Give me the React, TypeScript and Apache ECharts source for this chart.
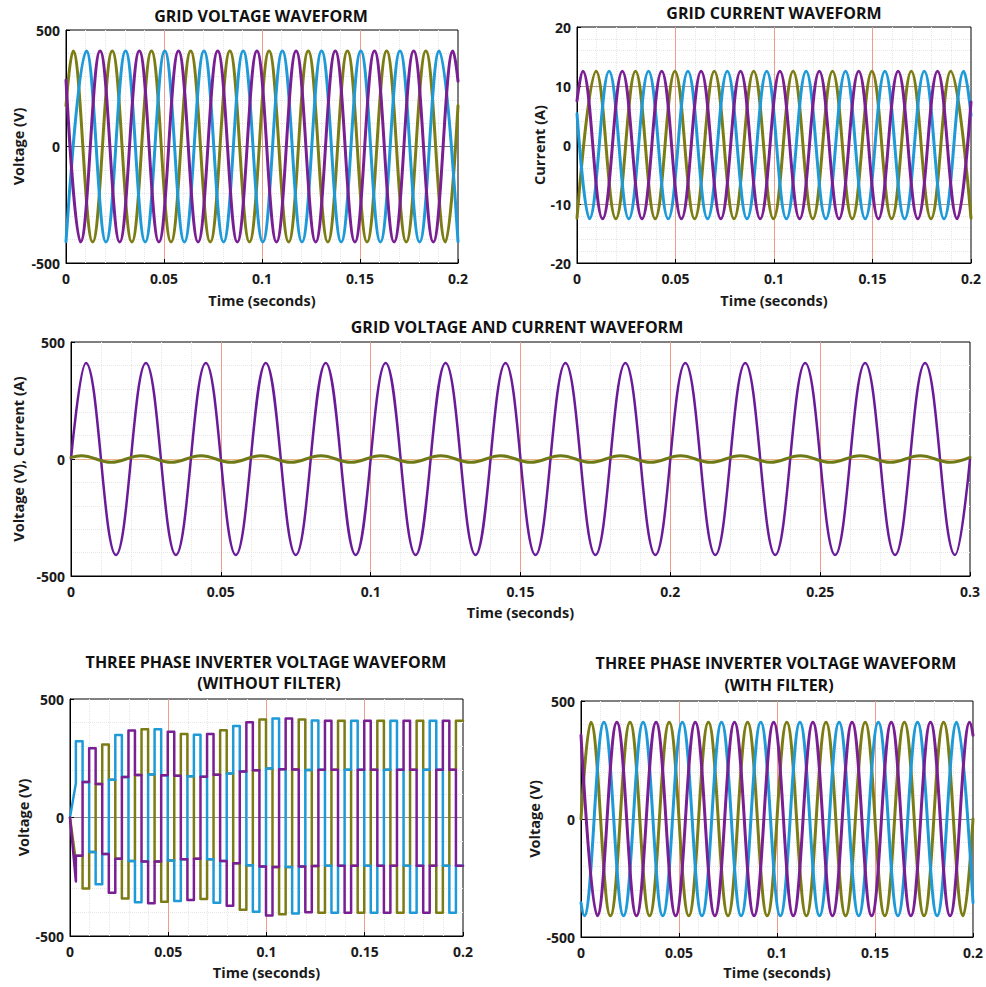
import { useEffect, useRef } from 'react';
import * as echarts from 'echarts';

type Pt = [number, number];

// ---------- colours ----------
const GREEN = '#7c7c14';
const BLUE = '#1e9ad8';
const PURPLE = '#7a1e94';

// ---------- tick labels ----------
const time02Ticks = [0, 0.05, 0.1, 0.15, 0.2];
const time03Ticks = [0, 0.05, 0.1, 0.15, 0.2, 0.25, 0.3];
const voltageTicks = [-500, 0, 500];
const currentTicks = [-20, -10, 0, 10, 20];

// ---------- GRID VOLTAGE WAVEFORM (extrema) ----------
const gridVoltageGreen: Pt[] = [[0,175],[0.0036,410],[0.0136,-410],[0.0236,410],[0.0336,-410],[0.0436,410],[0.0536,-410],[0.0636,410],[0.0736,-410],[0.0836,410],[0.0936,-410],[0.1036,410],[0.1136,-410],[0.1236,410],[0.1336,-410],[0.1436,410],[0.1536,-410],[0.1636,410],[0.1736,-410],[0.1836,410],[0.1936,-410],[0.2,175]];
const gridVoltageBlue: Pt[] = [[0,-408],[0.0104,410],[0.0204,-410],[0.0304,410],[0.0404,-410],[0.0504,410],[0.0604,-410],[0.0704,410],[0.0804,-410],[0.0904,410],[0.1004,-410],[0.1104,410],[0.1204,-410],[0.1304,410],[0.1404,-410],[0.1504,410],[0.1604,-410],[0.1704,410],[0.1804,-410],[0.1904,410],[0.2,-408]];
const gridVoltagePurple: Pt[] = [[0,285],[0.0074,-410],[0.0174,410],[0.0274,-410],[0.0374,410],[0.0474,-410],[0.0574,410],[0.0674,-410],[0.0774,410],[0.0874,-410],[0.0974,410],[0.1074,-410],[0.1174,410],[0.1274,-410],[0.1374,410],[0.1474,-410],[0.1574,410],[0.1674,-410],[0.1774,410],[0.1874,-410],[0.1974,410],[0.2,280]];

// ---------- GRID CURRENT WAVEFORM ----------
const gridCurrentPurple: Pt[] = [[0,7.5],[0.003,12.5],[0.013,-12.5],[0.023,12.5],[0.033,-12.5],[0.043,12.5],[0.053,-12.5],[0.063,12.5],[0.073,-12.5],[0.083,12.5],[0.093,-12.5],[0.103,12.5],[0.113,-12.5],[0.123,12.5],[0.133,-12.5],[0.143,12.5],[0.153,-12.5],[0.163,12.5],[0.173,-12.5],[0.183,12.5],[0.193,-12.5],[0.2,7.3]];
const gridCurrentGreen: Pt[] = [[0,-12.4],[0.0097,12.5],[0.0197,-12.5],[0.0297,12.5],[0.0397,-12.5],[0.0497,12.5],[0.0597,-12.5],[0.0697,12.5],[0.0797,-12.5],[0.0897,12.5],[0.0997,-12.5],[0.1097,12.5],[0.1197,-12.5],[0.1297,12.5],[0.1397,-12.5],[0.1497,12.5],[0.1597,-12.5],[0.1697,12.5],[0.1797,-12.5],[0.1897,12.5],[0.2,-12.4]];
const gridCurrentBlue: Pt[] = [[0,5.3],[0.0063,-12.5],[0.0163,12.5],[0.0263,-12.5],[0.0363,12.5],[0.0463,-12.5],[0.0563,12.5],[0.0663,-12.5],[0.0763,12.5],[0.0863,-12.5],[0.0963,12.5],[0.1063,-12.5],[0.1163,12.5],[0.1263,-12.5],[0.1363,12.5],[0.1463,-12.5],[0.1563,12.5],[0.1663,-12.5],[0.1763,12.5],[0.1863,-12.5],[0.1963,12.5],[0.2,5.0]];

// ---------- GRID VOLTAGE AND CURRENT WAVEFORM ----------
const vcVoltage: Pt[] = [[0,0],[0.005,410],[0.015,-410],[0.025,410],[0.035,-410],[0.045,410],[0.055,-410],[0.065,410],[0.075,-410],[0.085,410],[0.095,-410],[0.105,410],[0.115,-410],[0.125,410],[0.135,-410],[0.145,410],[0.155,-410],[0.165,410],[0.175,-410],[0.185,410],[0.195,-410],[0.205,410],[0.215,-410],[0.225,410],[0.235,-410],[0.245,410],[0.255,-410],[0.265,410],[0.275,-410],[0.285,410],[0.295,-410],[0.3,0]];
const vcCurrent: Pt[] = [[0,7],[0.0034,14],[0.0134,-14],[0.0234,14],[0.0334,-14],[0.0434,14],[0.0534,-14],[0.0634,14],[0.0734,-14],[0.0834,14],[0.0934,-14],[0.1034,14],[0.1134,-14],[0.1234,14],[0.1334,-14],[0.1434,14],[0.1534,-14],[0.1634,14],[0.1734,-14],[0.1834,14],[0.1934,-14],[0.2034,14],[0.2134,-14],[0.2234,14],[0.2334,-14],[0.2434,14],[0.2534,-14],[0.2634,14],[0.2734,-14],[0.2834,14],[0.2934,-14],[0.3,7]];

// ---------- INVERTER VOLTAGE (WITHOUT FILTER) ----------
// start-up ramps of each phase
const invStartGreen: Pt[] = [[0,0],[0.0025,-155]];
const invStartBlue: Pt[] = [[0,0],[0.003,145]];
const invStartPurple: Pt[] = [[0,0],[0.003,-270]];
// centre of each 60-degree pulse, in time order
const invPulseCentres = [0.0047,0.0081,0.0114,0.0147,0.0181,0.0214,0.0247,0.0281,0.0314,0.0347,0.0381,0.0414,0.0447,0.0481,0.0514,0.0547,0.0581,0.0614,0.0647,0.0681,0.0714,0.0747,0.0781,0.0814,0.0847,0.0881,0.0914,0.0947,0.0981,0.1014,0.1047,0.1081,0.1114,0.1147,0.1181,0.1214,0.1247,0.1281,0.1314,0.1347,0.1381,0.1414,0.1447,0.1481,0.1514,0.1547,0.1581,0.1614,0.1647,0.1681,0.1714,0.1747,0.1781,0.1814,0.1847,0.1881,0.1914,0.1947,0.1981];
// phase that carries each pulse and its sign
const invPulsePhase = ['blue','green','purple','blue','green','purple'];
const invPulseSign = [1,-1,1,-1,1,-1];
// height of each pulse (V)
const invPulsePeaks = [322,300,292,282,308,318,348,342,367,358,372,362,372,356,362,352,352,348,349,344,352,360,368,372,386,389,402,398,414,414,418,408,418,405,414,400,409,402,408,402,408,402,408,402,408,402,408,402,408,402,408,402,408,402,408,402,408,402,408];
const invEnd = 0.2;

// ---------- INVERTER VOLTAGE (WITH FILTER) ----------
const filterGreen: Pt[] = [[0,0],[0.005,410],[0.015,-410],[0.025,410],[0.035,-410],[0.045,410],[0.055,-410],[0.065,410],[0.075,-410],[0.085,410],[0.095,-410],[0.105,410],[0.115,-410],[0.125,410],[0.135,-410],[0.145,410],[0.155,-410],[0.165,410],[0.175,-410],[0.185,410],[0.195,-410],[0.2,0]];
const filterBlue: Pt[] = [[0,-355],[0.0017,-410],[0.0117,410],[0.0217,-410],[0.0317,410],[0.0417,-410],[0.0517,410],[0.0617,-410],[0.0717,410],[0.0817,-410],[0.0917,410],[0.1017,-410],[0.1117,410],[0.1217,-410],[0.1317,410],[0.1417,-410],[0.1517,410],[0.1617,-410],[0.1717,410],[0.1817,-410],[0.1917,410],[0.2,-355]];
const filterPurple: Pt[] = [[0,355],[0.0083,-410],[0.0183,410],[0.0283,-410],[0.0383,410],[0.0483,-410],[0.0583,410],[0.0683,-410],[0.0783,410],[0.0883,-410],[0.0983,410],[0.1083,-410],[0.1183,410],[0.1283,-410],[0.1383,410],[0.1483,-410],[0.1583,410],[0.1683,-410],[0.1783,410],[0.1883,-410],[0.1983,410],[0.2,355]];

// build six-step data for one phase from the pulse table
function buildInverter(phase: string, start: Pt[]): Pt[] {
  const out: Pt[] = start.map((p) => [p[0], p[1]] as Pt);
  let t0 = 0.003;
  for (let k = 0; k < invPulseCentres.length; k++) {
    const t1 = k < invPulseCentres.length - 1 ? (invPulseCentres[k] + invPulseCentres[k + 1]) / 2 : invEnd;
    const ph = invPulsePhase[k % 6];
    const sg = invPulseSign[k % 6];
    const h = invPulsePeaks[k];
    const level = ph === phase ? sg * h : -sg * h / 2;
    out.push([t0, level], [t1, level]);
    t0 = t1;
  }
  return out;
}

const FONT = '"Open Sans", "Noto Sans", sans-serif';
const TXT = '#1a1a1a';
const XGRID = '#ee9d8c';
const MINOR = '#e6e6e6';

const fmtTime = (v: number) => String(parseFloat(v.toFixed(3)));

function xAxisCfg(idx: number, ticks: number[], gap: number) {
  return {
    type: 'value', gridIndex: idx,
    min: ticks[0], max: ticks[ticks.length - 1], interval: ticks[1] - ticks[0],
    name: 'Time (seconds)', nameLocation: 'middle', nameGap: gap,
    nameTextStyle: { fontFamily: FONT, fontWeight: 'bold', fontSize: 14.5, color: TXT },
    axisLine: { show: true, onZero: false, lineStyle: { color: '#000', width: 1 } },
    axisTick: { show: true, inside: true, length: 4, lineStyle: { color: '#000' } },
    axisLabel: { fontFamily: FONT, fontWeight: 'bold', fontSize: 14, color: TXT, margin: 8, formatter: fmtTime },
    splitLine: { show: true, showMinLine: false, showMaxLine: false, lineStyle: { color: XGRID, width: 1 } },
    minorTick: { show: false, splitNumber: 5 },
    minorSplitLine: { show: true, lineStyle: { color: MINOR, type: 'dotted', width: 1 } },
  };
}

function yAxisCfg(idx: number, ticks: number[], name: string, gap: number, splitColor: string) {
  return {
    type: 'value', gridIndex: idx,
    min: ticks[0], max: ticks[ticks.length - 1], interval: ticks[1] - ticks[0],
    name, nameLocation: 'middle', nameGap: gap,
    nameTextStyle: { fontFamily: FONT, fontWeight: 'bold', fontSize: 14.5, color: TXT },
    axisLine: { show: true, onZero: false, lineStyle: { color: '#000', width: 1 } },
    axisTick: { show: true, inside: true, length: 4, lineStyle: { color: '#000' } },
    axisLabel: { fontFamily: FONT, fontWeight: 'bold', fontSize: 14, color: TXT, margin: 6 },
    splitLine: { show: true, showMinLine: false, showMaxLine: false, lineStyle: { color: splitColor, width: 1 } },
    minorTick: { show: false, splitNumber: 5 },
    minorSplitLine: { show: true, lineStyle: { color: MINOR, type: 'dotted', width: 1 } },
  };
}

function wave(data: Pt[], color: string, idx: number, width: number) {
  return {
    type: 'line', xAxisIndex: idx, yAxisIndex: idx, data,
    smooth: 0.4, smoothMonotone: 'x', symbol: 'none', silent: true,
    lineStyle: { color, width, join: 'round', cap: 'round' },
  };
}

function steps(data: Pt[], color: string, idx: number, width: number) {
  return {
    type: 'line', xAxisIndex: idx, yAxisIndex: idx, data,
    smooth: false, symbol: 'none', silent: true,
    lineStyle: { color, width, join: 'round', cap: 'round' },
  };
}

function title(text: string, x: number, y: number) {
  return {
    type: 'text', x, y, silent: true,
    style: {
      text, fill: '#111', font: `bold 16px ${FONT}`,
      textAlign: 'center', textVerticalAlign: 'middle', align: 'center', verticalAlign: 'middle',
    },
  };
}

export default function App() {
  const ref = useRef<HTMLDivElement>(null);
  useEffect(() => {
    if (!ref.current) return;
    const chart = echarts.init(ref.current, null, { renderer: 'svg' });
    const gridBase = { show: true, borderColor: '#000', borderWidth: 1, backgroundColor: '#fff', containLabel: false };
    chart.setOption({
      animation: false,
      backgroundColor: '#fff',
      grid: [
        { ...gridBase, left: 66, top: 30, width: 392, height: 233 },
        { ...gridBase, left: 577, top: 27, width: 394, height: 236 },
        { ...gridBase, left: 71, top: 342, width: 899, height: 234 },
        { ...gridBase, left: 70, top: 699, width: 393, height: 237 },
        { ...gridBase, left: 581, top: 701, width: 394, height: 236 },
      ],
      xAxis: [
        xAxisCfg(0, time02Ticks, 30),
        xAxisCfg(1, time02Ticks, 30),
        xAxisCfg(2, time03Ticks, 29),
        xAxisCfg(3, time02Ticks, 29),
        xAxisCfg(4, time02Ticks, 28),
      ],
      yAxis: [
        yAxisCfg(0, voltageTicks, 'Voltage (V)', 40, '#707070'),
        yAxisCfg(1, currentTicks, 'Current (A)', 30, '#b59c86'),
        yAxisCfg(2, voltageTicks, 'Voltage (V), Current (A)', 37, '#f0b48a'),
        yAxisCfg(3, voltageTicks, 'Voltage (V)', 39, '#8a8a8a'),
        yAxisCfg(4, voltageTicks, 'Voltage (V)', 39, '#8a8a8a'),
      ],
      series: [
        wave(gridVoltageGreen, GREEN, 0, 3),
        wave(gridVoltageBlue, BLUE, 0, 3),
        wave(gridVoltagePurple, PURPLE, 0, 3),
        wave(gridCurrentGreen, GREEN, 1, 3),
        wave(gridCurrentBlue, BLUE, 1, 3),
        wave(gridCurrentPurple, PURPLE, 1, 3),
        wave(vcVoltage, '#6a1b9a', 2, 2.5),
        wave(vcCurrent, '#6f7a16', 2, 3),
        steps(buildInverter('green', invStartGreen), GREEN, 3, 2.5),
        steps(buildInverter('blue', invStartBlue), BLUE, 3, 2.5),
        steps(buildInverter('purple', invStartPurple), PURPLE, 3, 2.5),
        wave(filterGreen, GREEN, 4, 3),
        wave(filterBlue, BLUE, 4, 3),
        wave(filterPurple, PURPLE, 4, 3),
      ],
      graphic: [
        title('GRID VOLTAGE WAVEFORM', 261, 16),
        title('GRID CURRENT WAVEFORM', 774, 13),
        title('GRID VOLTAGE AND CURRENT WAVEFORM', 517, 327),
        title('THREE PHASE INVERTER VOLTAGE WAVEFORM', 266, 662),
        title('(WITHOUT FILTER)', 269, 683),
        title('THREE PHASE INVERTER VOLTAGE WAVEFORM', 776, 663),
        title('(WITH FILTER)', 779, 685),
      ],
    });
    return () => chart.dispose();
  }, []);
  return (
    <div
      ref={ref}
      style={{ position: 'absolute', left: 0, top: 0, width: 986, height: 987, background: '#fff' }}
    />
  );
}
